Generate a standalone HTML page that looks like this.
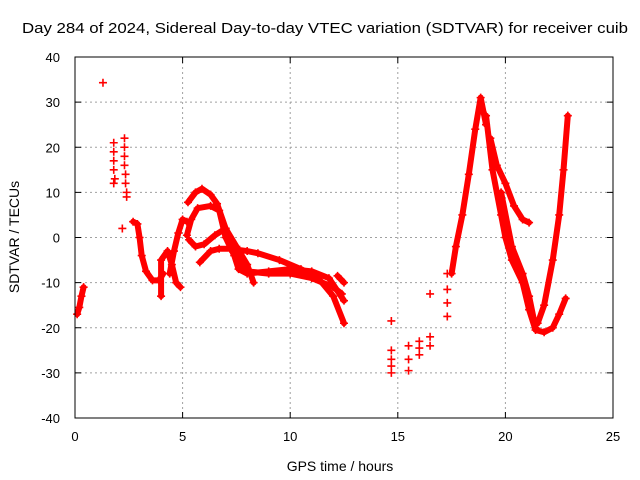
<!DOCTYPE html>
<html><head><meta charset="utf-8"><style>body{margin:0;background:#fff}svg{display:block;font-family:"Liberation Sans",sans-serif}</style></head>
<body>
<svg id="chart" width="640" height="480">
<text x="325" y="33" text-anchor="middle" font-size="15" textLength="606" lengthAdjust="spacingAndGlyphs">Day 284 of 2024, Sidereal Day-to-day VTEC variation (SDTVAR) for receiver cuib</text>
<text x="340" y="471" text-anchor="middle" font-size="14">GPS time / hours</text>
<text transform="translate(19,237) rotate(-90)" text-anchor="middle" font-size="14">SDTVAR / TECUs</text>
<g id="grid"></g><g id="marks"></g>
<rect x="75" y="57" width="538" height="361" fill="none" stroke="#000"/>
</svg>
<script>
const xTicks=[0,5,10,15,20,25];
const yTicks=[-40,-30,-20,-10,0,10,20,30,40];
const trackA=[[0.1,-17],[0.2,-15.5],[0.3,-13],[0.4,-11]];
const trackB=[[2.7,3.5],[2.9,3],[3.0,0],[3.1,-4],[3.3,-7.5],[3.6,-9.5],[3.9,-9.5],[4.1,-8]];
const trackC=[[4.0,-13],[4.0,-5],[4.3,-3],[4.5,-6],[4.7,-10],[4.9,-11]];
const trackC2=[[4.4,-8],[4.6,-3],[4.8,1],[5.0,4],[5.2,3.5]];
const trackD=[[5.25,7.8],[5.6,10],[5.9,10.8],[6.3,9.5],[6.6,7.5],[7.0,2],[7.5,-4],[8.0,-7.5],[9.0,-8],[10.0,-8],[11.0,-9],[12.0,-11],[12.4,-12.5]];
const trackE=[[5.2,0.5],[5.4,4],[5.7,6.5],[6.3,7],[6.7,6],[7.0,0],[7.4,-4],[7.6,-7],[8.0,-8],[9.0,-7.5],[10.0,-7],[11.0,-7.5],[11.8,-9],[12.5,-14]];
const trackF=[[5.8,-5.5],[6.3,-3],[6.7,-2.5],[7.2,-2.5],[8.0,-3],[8.5,-3.5],[9.5,-5],[10.5,-7],[11.3,-9],[12.0,-13],[12.5,-19]];
const trackG=[[5.3,-0.5],[5.6,-2],[6.0,-1.5],[6.5,0.5],[7.0,2],[7.5,-2],[8.0,-6],[8.3,-10]];
const trackG2=[[12.2,-8.5],[12.5,-10]];
const trackH=[[17.5,-8],[17.7,-2],[18.0,5],[18.3,14],[18.6,24],[18.85,31],[19.1,25]];
const trackI=[[19.1,27],[19.4,15],[19.8,5],[20.0,0],[20.3,-5],[20.8,-10],[21.1,-16],[21.4,-20.5],[21.8,-21],[22.2,-20],[22.5,-17],[22.8,-13.5]];
const trackJ=[[19.3,22],[19.6,16],[20.0,12],[20.4,7],[20.8,4],[21.1,3.3]];
const trackJ2=[[19.8,10],[20.3,-2],[20.8,-8],[21.1,-13],[21.4,-20]];
const trackK=[[21.5,-19],[21.8,-15],[22.2,-5],[22.5,5],[22.7,15],[22.9,27]];
const tracks=[trackA,trackB,trackC,trackC2,trackD,trackE,trackF,trackG,trackG2,trackH,trackI,trackJ,trackJ2,trackK];
const scatter=[[1.3,34.3],[1.8,21],[1.8,19],[1.8,17],[1.8,15],[1.85,13],[1.8,12],[2.3,22],[2.3,20],[2.3,18],[2.3,16],[2.35,14],[2.35,12],[2.4,10],[2.4,9],[2.2,2],
[14.7,-18.5],[14.7,-25],[14.7,-27],[14.7,-28.5],[14.7,-30],[15.5,-24],[15.5,-27],[15.5,-29.5],[16.0,-23],[16.0,-24.5],[16.0,-26],[16.5,-12.5],[16.5,-22],[16.5,-24],[17.3,-8],[17.3,-11.5],[17.3,-14.5],[17.3,-17.5]];
const X=h=>75+h*538/25, Y=v=>237.5-v*361/80;
const ns='http://www.w3.org/2000/svg';
const grid=document.getElementById('grid'), marks=document.getElementById('marks');
function mk(t,a,p){const e=document.createElementNS(ns,t);for(const k in a)e.setAttribute(k,a[k]);p.appendChild(e);return e;}
xTicks.forEach(t=>{const x=X(t);
 if(t>0&&t<25){const l=mk('line',{x1:x,y1:57,x2:x,y2:418,stroke:'#a0a0a0','stroke-dasharray':'2,3'},grid);
 
 }
 mk('line',{x1:x,y1:418,x2:x,y2:412,stroke:'#000'},grid);mk('line',{x1:x,y1:57,x2:x,y2:63,stroke:'#000'},grid);
 const s=mk('text',{x:x,y:441,'text-anchor':'middle','font-size':13},grid);s.textContent=t;
 
 });
yTicks.forEach(t=>{const y=Y(t);
 if(t>-40&&t<40){const l=mk('line',{x1:75,y1:y,x2:613,y2:y,stroke:'#a0a0a0','stroke-dasharray':'2,3'},grid);
 
 }
 mk('line',{x1:75,y1:y,x2:81,y2:y,stroke:'#000'},grid);mk('line',{x1:613,y1:y,x2:607,y2:y,stroke:'#000'},grid);
 const s=mk('text',{x:60,y:y+5,'text-anchor':'end','font-size':13},grid);s.textContent=t;
 
 });
function plus(h,v){const x=X(h),y=Y(v);
 const p=mk('path',{d:`M${x-4},${y}h8M${x},${y-4}v8`,stroke:'#f00','stroke-width':1.6,fill:'none'},marks);
 
 }
tracks.forEach(tr=>{const pl=mk('polyline',{points:tr.map(p=>X(p[0])+','+Y(p[1])).join(' '),fill:'none',stroke:'#f00','stroke-width':6,'stroke-linejoin':'round','stroke-linecap':'round'},marks);
 
 
 tr.forEach(p=>plus(p[0],p[1]));});
scatter.forEach(p=>plus(p[0],p[1]));
</script>
</body></html>
